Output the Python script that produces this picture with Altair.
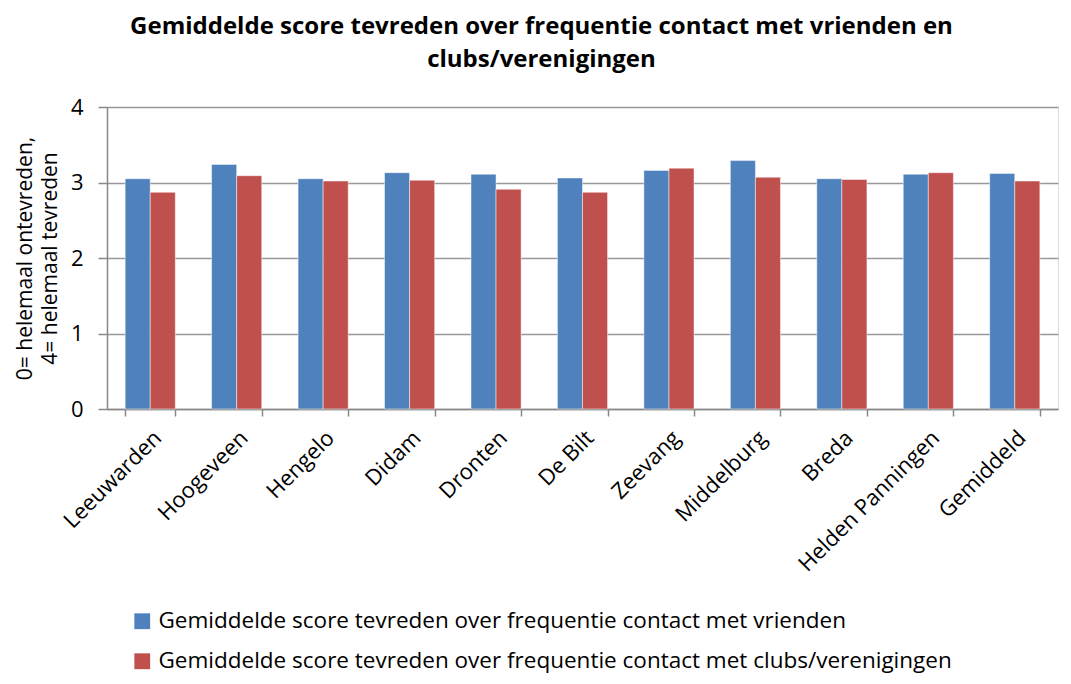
import altair as alt
import pandas as pd

categories = ["Leeuwarden", "Hoogeveen", "Hengelo", "Didam", "Dronten", "De Bilt",
              "Zeevang", "Middelburg", "Breda", "Helden Panningen", "Gemiddeld"]
vrienden = [3.05, 3.24, 3.05, 3.13, 3.11, 3.06, 3.16, 3.29, 3.05, 3.11, 3.12]
clubs = [2.87, 3.09, 3.02, 3.03, 2.91, 2.87, 3.19, 3.07, 3.04, 3.13, 3.02]
series = ["Gemiddelde score tevreden over frequentie contact met vrienden",
          "Gemiddelde score tevreden over frequentie contact met clubs/verenigingen"]
colors = ["#4F81BD", "#C0504D"]

rows = []
for c, v in zip(categories, vrienden):
    rows.append({"stad": c, "reeks": series[0], "score": v})
for c, v in zip(categories, clubs):
    rows.append({"stad": c, "reeks": series[1], "score": v})
df = pd.DataFrame(rows)

font = "Open Sans"

chart = alt.Chart(df).mark_bar(stroke="white", strokeOpacity=0.6, strokeWidth=0.8).encode(
    x=alt.X("stad:N", sort=categories, title=None,
            scale=alt.Scale(paddingInner=0.42, paddingOuter=0.21),
            axis=alt.Axis(labelAngle=-45, labelFontSize=22, labelFont=font,
                          labelColor="black", domainColor="#888888", domainWidth=1.5,
                          tickColor="#888888", tickWidth=1.5, tickSize=7,
                          ticks=True, tickBand="extent", labelPadding=11,
                          labelLimit=400)),
    xOffset=alt.XOffset("reeks:N", sort=series, scale=alt.Scale(paddingInner=0, paddingOuter=0)),
    y=alt.Y("score:Q", title=["0= helemaal ontevreden,", "4= helemaal tevreden"],
            scale=alt.Scale(domain=[0, 4]),
            axis=alt.Axis(values=[0, 1, 2, 3, 4], format="d", labelFontSize=22, labelFont=font,
                          labelColor="black", titleFont=font, titleFontSize=21,
                          titleFontWeight="normal", titleColor="black", titleLineHeight=25,
                          domainColor="#888888", domainWidth=1.5, tickColor="#888888",
                          tickWidth=1.5, tickSize=9, labelPadding=15,
                          gridColor="#999999", gridWidth=1.5, titlePadding=10)),
    color=alt.Color("reeks:N", sort=series,
                    scale=alt.Scale(domain=series, range=colors),
                    legend=alt.Legend(title=None, orient="none", direction="vertical",
                                      legendX=24, legendY=503,
                                      labelFont=font, labelFontSize=22.5, labelColor="black",
                                      symbolType="square", symbolSize=250,
                                      symbolStrokeWidth=0, rowPadding=17,
                                      labelOffset=5, labelLimit=1000)),
).properties(
    width=951,
    height=302,
    autosize=alt.AutoSizeParams(type="none"),
    padding={"left": 99, "top": 99, "right": 5, "bottom": 267},
    title=alt.TitleParams(
        ["Gemiddelde score tevreden over frequentie contact met vrienden en",
         "clubs/verenigingen"],
        font=font, fontSize=24, fontWeight="bold", color="black",
        anchor="middle", frame="group", dx=-41, offset=24, lineHeight=33),
).configure_view(stroke=None).configure(background="white")

chart.save("out.html", embed_options={"renderer": "svg", "actions": False})
